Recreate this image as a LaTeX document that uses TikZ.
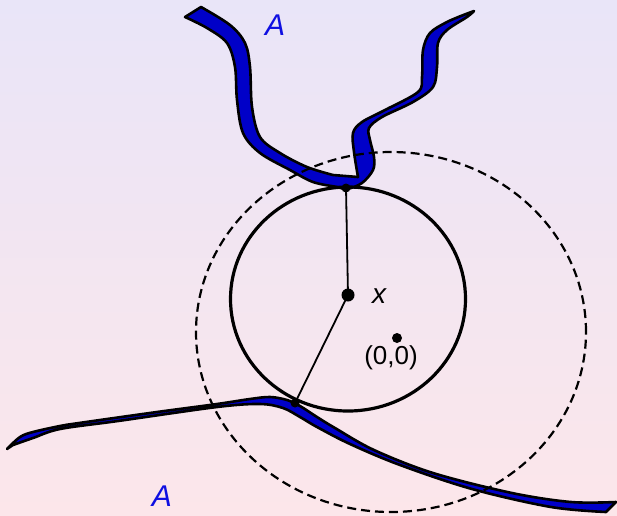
\documentclass[tikz,border=0pt]{standalone}
\usepackage{fontspec}
\setmainfont{Liberation Sans}
\usetikzlibrary{positioning}
\definecolor{bgtop}{RGB}{233,229,248}
\definecolor{bgbot}{RGB}{252,230,234}
\definecolor{ribblue}{RGB}{0,0,200}
\definecolor{lblblue}{RGB}{15,15,225}
\tikzset{
  ribbon/.style={fill=ribblue,draw=black,line width=2.6pt,line join=round},
  dotmark/.style={circle,fill=black,inner sep=0pt,minimum size=#1},
  setname/.style={text=lblblue,font=\fontsize{30}{33}\selectfont\itshape},
}

\begin{document}
\begin{tikzpicture}[x=1pt,y=-1pt]
  % background
  \shade[top color=bgtop,bottom color=bgbot] (0,0) rectangle (617,515);
  \useasboundingbox (0,0) rectangle (617,515);

  % the set A
  \draw[ribbon] plot[smooth,tension=0.55] coordinates {(185,17) (207,28) (227,43) (235,67) (237,100) (243,133) (260,153) (290,170) (313,182) (337,187) (347,189) (362,183) (373,170) (374,157) (370,140) (369,128) (382,117) (413,102) (433,87) (437,67) (438,43) (447,30) (467,17) (474,11)}
    -- plot[smooth,tension=0.55] coordinates {(466,14) (447,22) (430,33) (423,50) (422,77) (418,92) (385,110) (362,122) (353,133) (354,152) (358,177)}
    -- plot[smooth,tension=0.55] coordinates {(333,175) (307,167) (280,153) (260,137) (252,107) (250,67) (245,43) (230,25) (201,7)}
    -- cycle;
  \draw[ribbon] plot[smooth,tension=0.55] coordinates {(7,449) (20,437) (33,432) (60,426) (79,423) (157,412) (217,404) (250,399) (270,397) (287,400) (300,406) (317,417) (335,428) (374,450) (433,473) (512,493) (571,502) (616,502)}
    -- plot[smooth,tension=0.55] coordinates {(606,512) (551,507) (472,489) (400,465) (350,444) (317,427) (300,417) (283,408) (260,404) (217,407) (118,421) (60,429) (33,438) (13,445)}
    -- cycle;

  % balls
  \draw[line width=2.2pt,dash pattern=on 9pt off 5pt] (391,332) ellipse [x radius=195pt,y radius=180pt];
  \draw[line width=3.2pt] (348,299) ellipse [x radius=117.5pt,y radius=112pt];

  \node[dotmark=13pt] (x) at (348,295) {};
  \node[dotmark=9pt] (p1) at (346,188) {};
  \node[dotmark=9pt] (p2) at (295,403) {};
  \node[dotmark=10pt] (o) at (397,338) {};
  \draw[line width=1.8pt] (x.center) -- (p1.center);
  \draw[line width=1.8pt] (x.center) -- (p2.center);

  % labels
  \node[font=\fontsize{28}{31}\selectfont\itshape] (xl) at (379,296) {x};
  \node[font=\fontsize{26}{29}\selectfont] (ol) at (391,358) {(0,0)};
  \node[setname] (a1) at (275,25) {A};
  \node[setname] (a2) at (162,496) {A};
\end{tikzpicture}
\end{document}
